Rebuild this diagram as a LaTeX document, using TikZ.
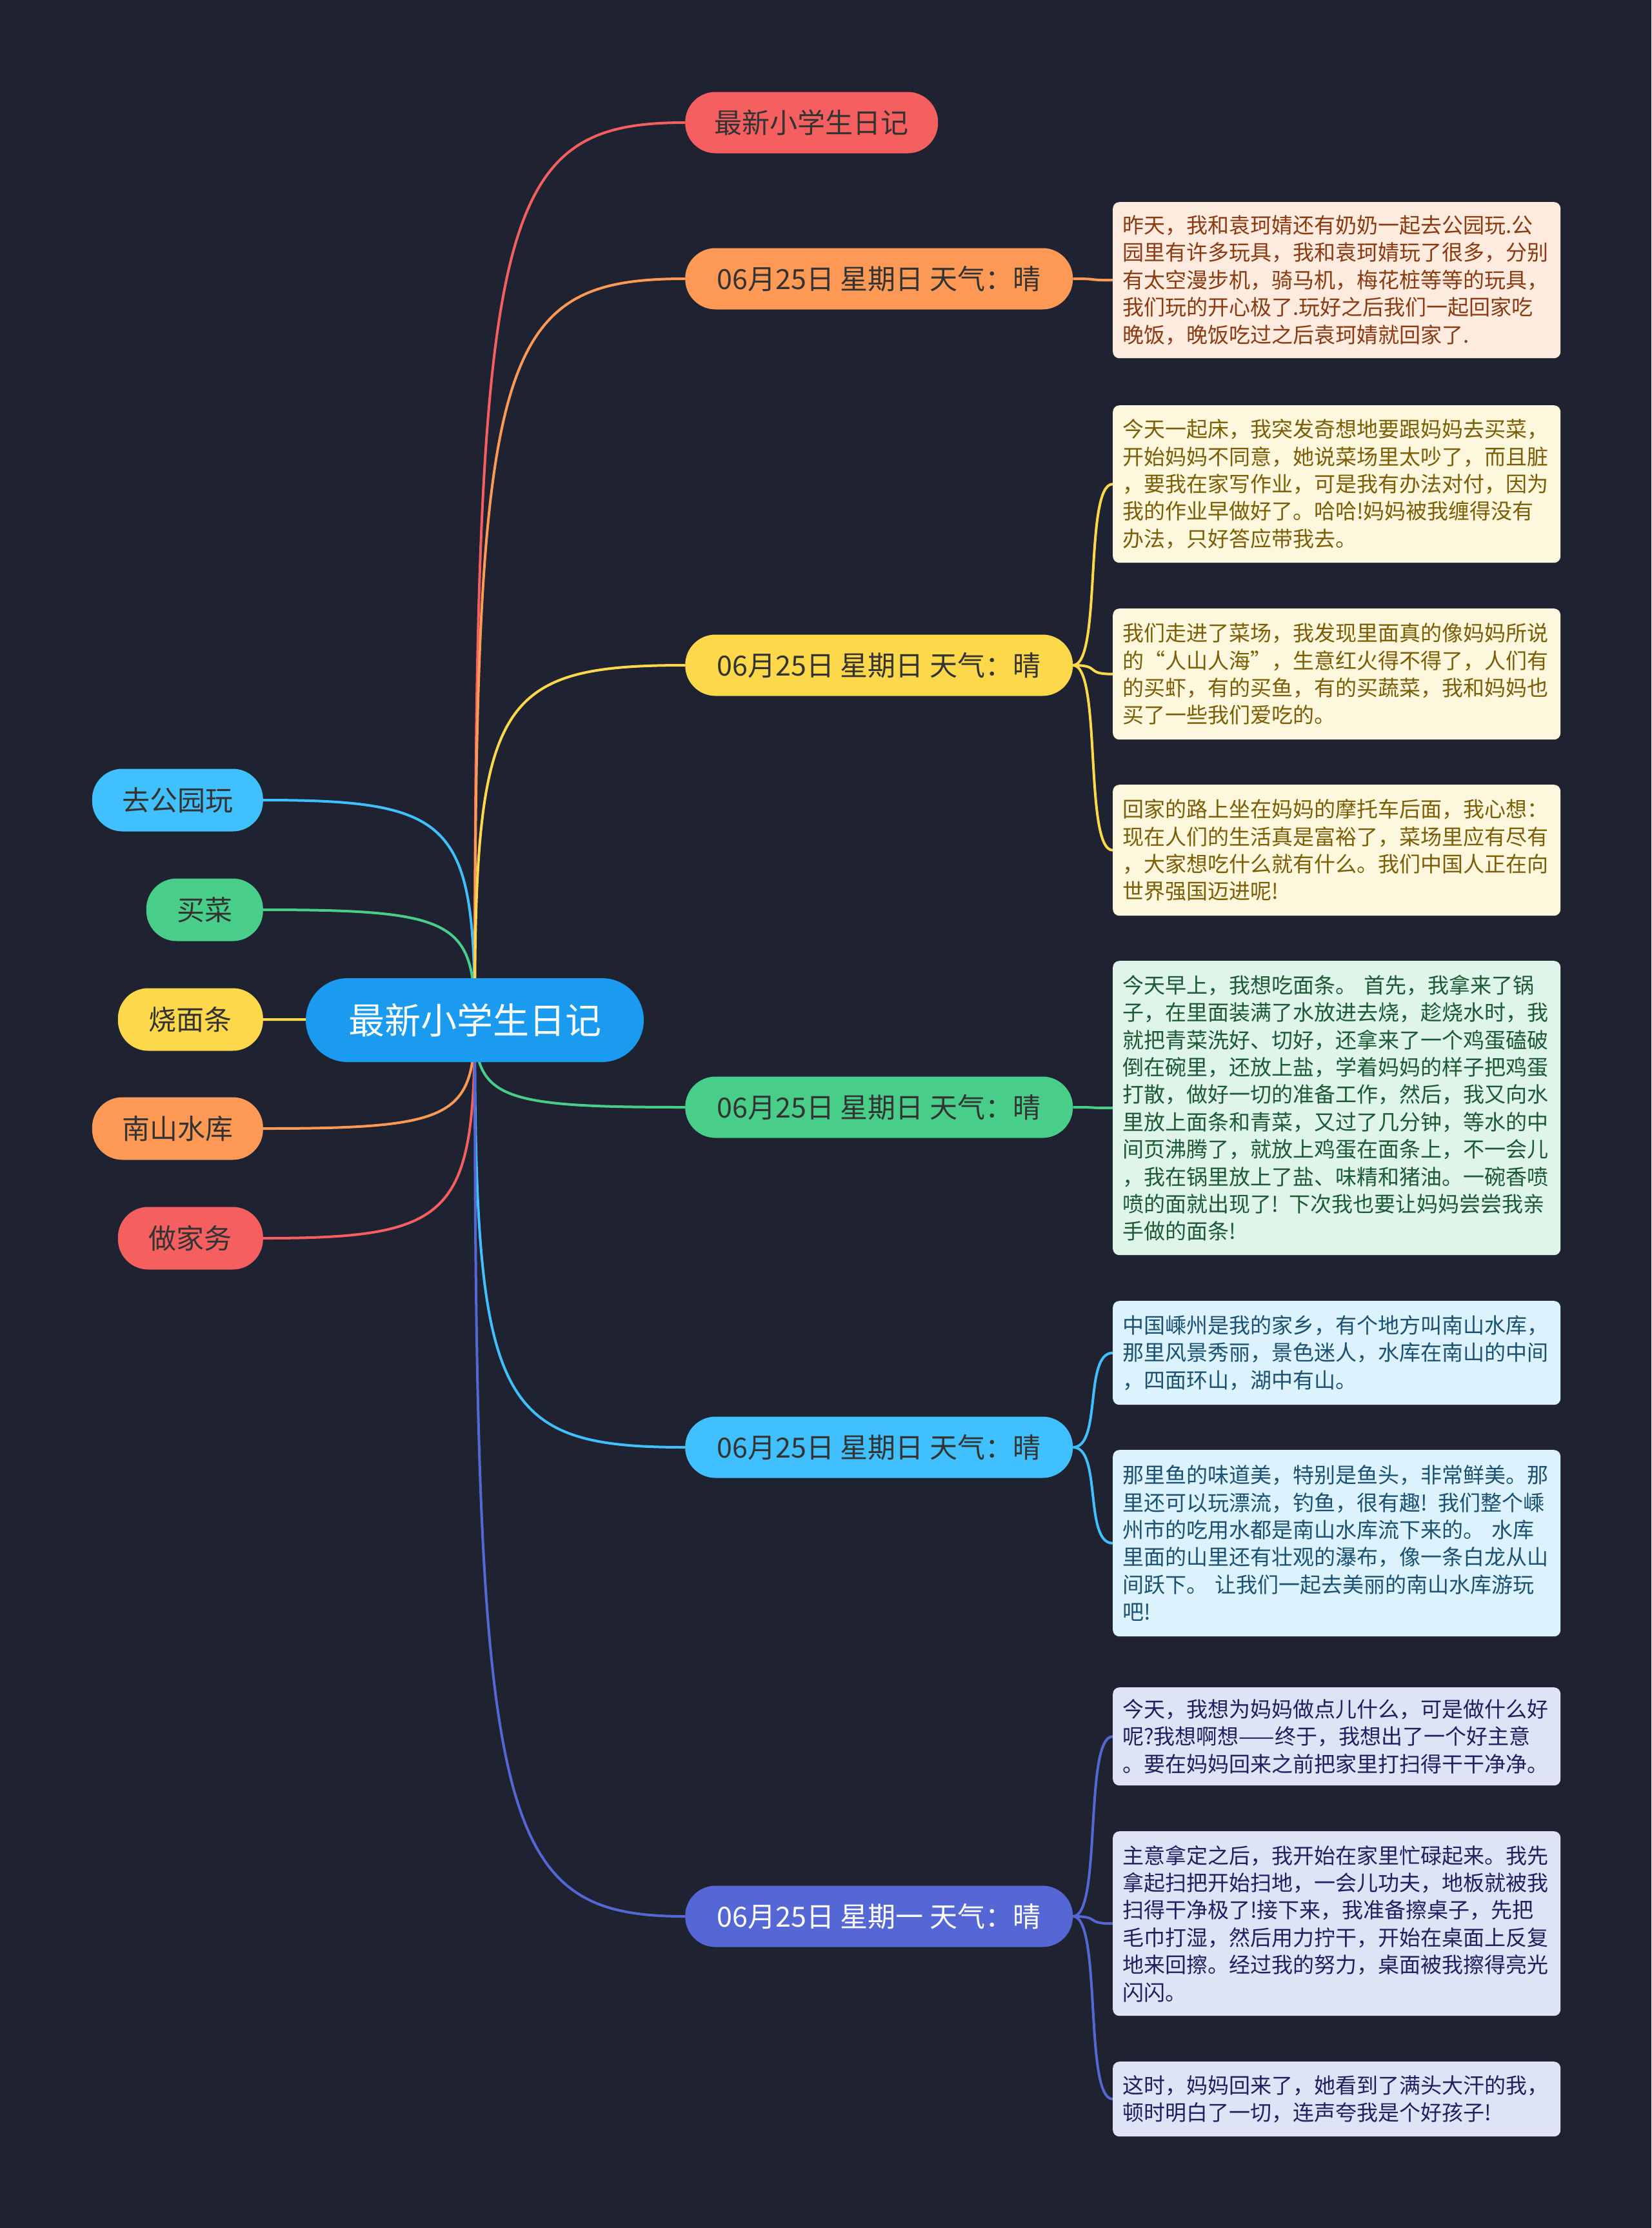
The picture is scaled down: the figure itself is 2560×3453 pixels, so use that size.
\documentclass[tikz,border=0pt]{standalone}
\usepackage{fontspec}
\setmainfont{Noto Sans CJK SC}
\usetikzlibrary{calc}
\pgfdeclarelayer{back}
\pgfdeclarelayer{links}
\pgfsetlayers{back,links,main}
\definecolor{bgc}{HTML}{1F2230}
\definecolor{cred}{HTML}{F65F5F}
\definecolor{corange}{HTML}{FE9A55}
\definecolor{cyellow}{HTML}{FED84B}
\definecolor{cgreen}{HTML}{49CE89}
\definecolor{cblue}{HTML}{40C0FE}
\definecolor{cindigo}{HTML}{5566D5}
\definecolor{croot}{HTML}{1A9BF0}
\definecolor{darktxt}{HTML}{333333}
\definecolor{fo}{HTML}{FDEBDF}\definecolor{to}{HTML}{8A3B12}
\definecolor{fy}{HTML}{FDF7DD}\definecolor{ty}{HTML}{7B5E05}
\definecolor{fg}{HTML}{DFF5E9}\definecolor{tg}{HTML}{1B5A34}
\definecolor{fb}{HTML}{DCF3FE}\definecolor{tb}{HTML}{1B5172}
\definecolor{fi}{HTML}{DFE3F6}\definecolor{ti}{HTML}{1C2260}
\newcommand\mmconn[3]{% from node #1 anchor #2, colour #3 to root
  \draw[link,#3] (#1.#2) .. controls ($(#1.#2)!0.9!(root.center|-#1.#2)$) and ($(root.center)!0.9!(root.center|-#1.#2)$) .. (root.center);}
\newcommand\brconn[3]{% branch #1 to box #2 colour #3
  \draw[link,#3] (#1.east) .. controls ($(#1.east)+(45,0)$) and ($(#2.west)+(-45,0)$) .. (#2.west);}
\begin{document}
\begin{tikzpicture}[x=1pt,y=-1pt,
  link/.style={line width=4pt},
  pill/.style={rounded corners=47pt, minimum height=95pt, inner sep=0pt, text=darktxt, font=\fontsize{43}{50}\selectfont},
  lpill/.style={pill, minimum height=97pt, anchor=east},
  bpill/.style={pill, anchor=west, minimum width=601pt},
  tbox/.style={rounded corners=10pt, anchor=north west, minimum width=694pt, text width=664pt, inner xsep=15pt, inner ysep=0pt, align=left, font=\fontsize{33}{42.4}\selectfont}]
\begin{pgfonlayer}{back}
\fill[bgc] (0,0) rectangle (2560,3453);
\end{pgfonlayer}
\useasboundingbox (0,0) rectangle (2560,3453);

% root
\node[rounded corners=65pt, minimum width=524pt, minimum height=130pt, inner sep=0pt, fill=croot, text=white, font=\fontsize{56}{62}\selectfont] (root) at (736,1581) {最新小学生日记};

% left nodes
\node[lpill, fill=cblue, minimum width=265pt] (l1) at (408,1240) {去公园玩};
\node[lpill, fill=cgreen, minimum width=181pt] (l2) at (408,1410) {买菜};
\node[lpill, fill=cyellow, minimum width=225pt] (l3) at (408,1580) {烧面条};
\node[lpill, fill=corange, minimum width=265pt] (l4) at (408,1749) {南山水库};
\node[lpill, fill=cred, minimum width=225pt] (l5) at (408,1919) {做家务};

% branch nodes
\node[bpill, fill=cred, minimum width=392pt] (b0) at (1062,190) {最新小学生日记};
\node[bpill, fill=corange] (b1) at (1062,432) {06月25日 星期日 天气：晴};
\node[bpill, fill=cyellow] (b2) at (1062,1031) {06月25日 星期日 天气：晴};
\node[bpill, fill=cgreen] (b3) at (1062,1716) {06月25日 星期日 天气：晴};
\node[bpill, fill=cblue] (b4) at (1062,2243) {06月25日 星期日 天气：晴};
\node[bpill, fill=cindigo, text=white] (b5) at (1062,2970) {06月25日 星期一 天气：晴};

% text boxes
\node[tbox, fill=fo, text=to, minimum height=242pt] (t1) at (1725,313) {昨天，我和袁珂婧还有奶奶一起去公园玩.公\\园里有许多玩具，我和袁珂婧玩了很多，分别\\有太空漫步机，骑马机，梅花桩等等的玩具，\\我们玩的开心极了.玩好之后我们一起回家吃\\晚饭，晚饭吃过之后袁珂婧就回家了.};

\node[tbox, fill=fy, text=ty, minimum height=244pt] (t2) at (1725,628) {今天一起床，我突发奇想地要跟妈妈去买菜，\\开始妈妈不同意，她说菜场里太吵了，而且脏\\，要我在家写作业，可是我有办法对付，因为\\我的作业早做好了。哈哈!妈妈被我缠得没有\\办法，只好答应带我去。};
\node[tbox, fill=fy, text=ty, minimum height=203pt] (t3) at (1725,943) {我们走进了菜场，我发现里面真的像妈妈所说\\的“人山人海”，生意红火得不得了，人们有\\的买虾，有的买鱼，有的买蔬菜，我和妈妈也\\买了一些我们爱吃的。};
\node[tbox, fill=fy, text=ty, minimum height=203pt] (t4) at (1725,1216) {回家的路上坐在妈妈的摩托车后面，我心想：\\现在人们的生活真是富裕了，菜场里应有尽有\\，大家想吃什么就有什么。我们中国人正在向\\世界强国迈进呢!};

\node[tbox, fill=fg, text=tg, minimum height=456pt] (t5) at (1725,1489) {今天早上，我想吃面条。 首先，我拿来了锅\\子，在里面装满了水放进去烧，趁烧水时，我\\就把青菜洗好、切好，还拿来了一个鸡蛋磕破\\倒在碗里，还放上盐，学着妈妈的样子把鸡蛋\\打散，做好一切的准备工作，然后，我又向水\\里放上面条和青菜，又过了几分钟，等水的中\\间页沸腾了，就放上鸡蛋在面条上，不一会儿\\，我在锅里放上了盐、味精和猪油。一碗香喷\\喷的面就出现了! 下次我也要让妈妈尝尝我亲\\手做的面条!};

\node[tbox, fill=fb, text=tb, minimum height=161pt] (t6) at (1725,2016) {中国嵊州是我的家乡，有个地方叫南山水库，\\那里风景秀丽，景色迷人，水库在南山的中间\\，四面环山，湖中有山。};
\node[tbox, fill=fb, text=tb, minimum height=289pt] (t7) at (1725,2247) {那里鱼的味道美，特别是鱼头，非常鲜美。那\\里还可以玩漂流，钓鱼，很有趣! 我们整个嵊\\州市的吃用水都是南山水库流下来的。 水库\\里面的山里还有壮观的瀑布，像一条白龙从山\\间跃下。 让我们一起去美丽的南山水库游玩\\吧!};

\node[tbox, fill=fi, text=ti, minimum height=152pt] (t8) at (1725,2615) {今天，我想为妈妈做点儿什么，可是做什么好\\呢?我想啊想——终于，我想出了一个好主意\\。要在妈妈回来之前把家里打扫得干干净净。};
\node[tbox, fill=fi, text=ti, minimum height=286pt] (t9) at (1725,2838) {主意拿定之后，我开始在家里忙碌起来。我先\\拿起扫把开始扫地，一会儿功夫，地板就被我\\扫得干净极了!接下来，我准备擦桌子，先把\\毛巾打湿，然后用力拧干，开始在桌面上反复\\地来回擦。经过我的努力，桌面被我擦得亮光\\闪闪。};
\node[tbox, fill=fi, text=ti, minimum height=116pt] (t10) at (1725,3195) {这时，妈妈回来了，她看到了满头大汗的我，\\顿时明白了一切，连声夸我是个好孩子!};

\begin{pgfonlayer}{links}
\mmconn{l1}{east}{cblue}
\mmconn{l2}{east}{cgreen}
\mmconn{l3}{east}{cyellow}
\mmconn{l4}{east}{corange}
\mmconn{l5}{east}{cred}
\mmconn{b0}{west}{cred}
\mmconn{b1}{west}{corange}
\mmconn{b2}{west}{cyellow}
\mmconn{b3}{west}{cgreen}
\mmconn{b4}{west}{cblue}
\mmconn{b5}{west}{cindigo}
\brconn{b1}{t1}{corange}
\brconn{b2}{t2}{cyellow}
\brconn{b2}{t3}{cyellow}
\brconn{b2}{t4}{cyellow}
\brconn{b3}{t5}{cgreen}
\brconn{b4}{t6}{cblue}
\brconn{b4}{t7}{cblue}
\brconn{b5}{t8}{cindigo}
\brconn{b5}{t9}{cindigo}
\brconn{b5}{t10}{cindigo}
\end{pgfonlayer}
\end{tikzpicture}
\end{document}
